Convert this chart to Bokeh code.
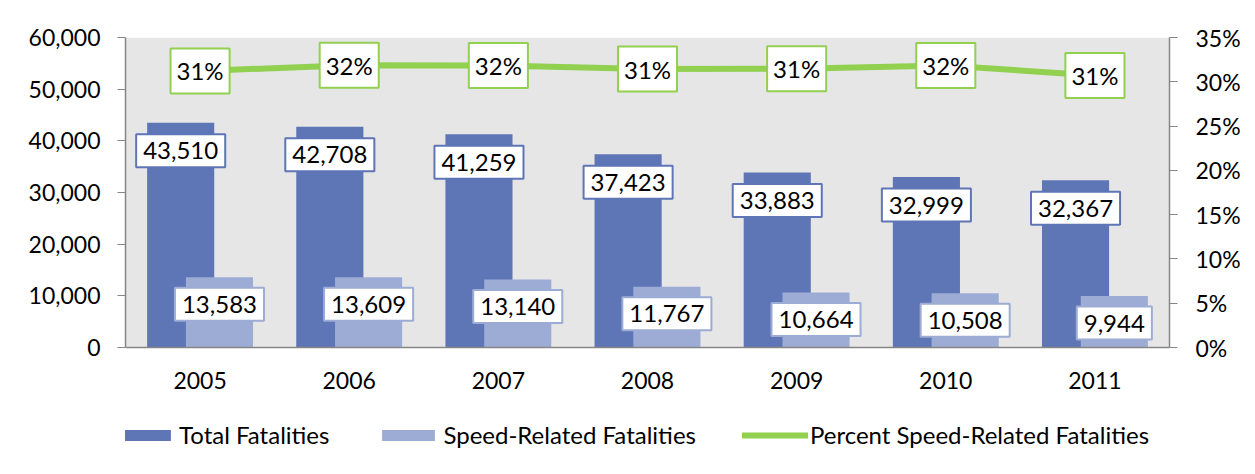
from bokeh.plotting import figure
from bokeh.models import (ColumnDataSource, LinearAxis, Range1d, FactorRange, BoxAnnotation,
                          Legend, LegendItem, NumeralTickFormatter, PrintfTickFormatter,
                          FixedTicker)
from bokeh.transform import dodge
from bokeh.core.properties import value
from bokeh.embed import file_html
from bokeh.resources import INLINE

years = ["2005", "2006", "2007", "2008", "2009", "2010", "2011"]
total_fatalities = [43510, 42708, 41259, 37423, 33883, 32999, 32367]
speed_fatalities = [13583, 13609, 13140, 11767, 10664, 10508, 9944]
percent_speed = [31.22, 31.87, 31.85, 31.44, 31.47, 31.84, 30.72]
left_ticks = [0, 10000, 20000, 30000, 40000, 50000, 60000]
right_ticks = [0, 5, 10, 15, 20, 25, 30, 35]

DARK = "#5e75b6"
LIGHT = "#9dacd5"
GREEN = "#92d050"
AXIS = "#868686"
FONT = "Lato"

# layout (pixels)
W, H = 1255, 474
TOP, LEFT, RIGHT, BOTTOM = 37, 125, 86, 7
PLOT_PX = 310                     # height of the grey plotting area
EXTRA_PX = H - TOP - BOTTOM - PLOT_PX   # room below the zero line for labels & legend
YMAX, PMAX = 60000, 35
ymin = -EXTRA_PX * YMAX / PLOT_PX
pmin = -EXTRA_PX * PMAX / PLOT_PX

src = ColumnDataSource(dict(
    years=years,
    total=total_fatalities,
    speed=speed_fatalities,
    pct=percent_speed,
    total_lbl=[f"{v:,}" for v in total_fatalities],
    speed_lbl=[f"{v:,}" for v in speed_fatalities],
    pct_lbl=[f"{round(v)}%" for v in percent_speed],
))

p = figure(width=W, height=H, x_range=FactorRange(*years), y_range=Range1d(ymin, YMAX),
           output_backend="svg", toolbar_location=None,
           min_border_left=LEFT, min_border_right=RIGHT, min_border_top=TOP,
           min_border_bottom=BOTTOM)
p.background_fill_color = "white"
p.border_fill_color = "white"
p.outline_line_color = None
p.xgrid.visible = False
p.ygrid.visible = False
p.x_range.range_padding = 0
p.extra_y_ranges = {"pct": Range1d(pmin, PMAX)}

p.add_layout(BoxAnnotation(bottom=0, top=YMAX, fill_color="#e6e6e6", fill_alpha=1,
                           line_color=None, level="underlay"))

# left axis
ya = p.yaxis[0]
ya.ticker = FixedTicker(ticks=left_ticks)
ya.bounds = (0, YMAX)
ya.formatter = NumeralTickFormatter(format="0,0")
ya.axis_line_color = AXIS
ya.axis_line_width = 1.5
ya.major_tick_line_color = AXIS
ya.major_tick_in = 0
ya.major_tick_out = 8
ya.minor_tick_line_color = None
ya.major_label_text_font = FONT
ya.major_label_text_font_size = "23px"
ya.major_label_text_color = "black"
ya.major_label_standoff = 17

# right axis
ra = LinearAxis(y_range_name="pct", ticker=FixedTicker(ticks=right_ticks),
                formatter=PrintfTickFormatter(format="%d%%"), bounds=(0, PMAX))
ra.axis_line_color = AXIS
ra.axis_line_width = 1.5
ra.major_tick_line_color = AXIS
ra.major_tick_in = 0
ra.major_tick_out = 8
ra.minor_tick_line_color = None
ra.major_label_text_font = FONT
ra.major_label_text_font_size = "23px"
ra.major_label_text_color = "black"
ra.major_label_standoff = 18
p.add_layout(ra, "right")

# x axis drawn on the zero line
xa = p.xaxis[0]
xa.fixed_location = 0
xa.axis_line_color = AXIS
xa.axis_line_width = 1.5
xa.major_tick_line_color = None
xa.major_tick_out = 0
xa.major_tick_in = 0
xa.major_label_text_font = FONT
xa.major_label_text_font_size = "23px"
xa.major_label_text_color = "black"
xa.major_label_standoff = 24

r_total = p.vbar(x=dodge("years", -0.13, range=p.x_range), top="total", width=0.45,
                 source=src, fill_color=DARK, line_color=None)
r_speed = p.vbar(x=dodge("years", 0.13, range=p.x_range), top="speed", width=0.45,
                 source=src, fill_color=LIGHT, line_color=None)
r_line = p.line(x="years", y="pct", source=src, y_range_name="pct",
                line_color=GREEN, line_width=6, line_cap="round")

common = dict(source=src, anchor="center", text_font=value(FONT), text_font_size="24px",
              text_color="black", background_fill_color="white", border_line_width=2)
p.text(x=dodge("years", -0.13, range=p.x_range), y="total", text="total_lbl",
       y_offset=28, border_line_color=DARK, padding=(7, 8), **common)
p.text(x=dodge("years", 0.13, range=p.x_range), y="speed", text="speed_lbl",
       y_offset=27, border_line_color=LIGHT, padding=(7, 8), **common)
p.text(x="years", y="pct", y_range_name="pct", text="pct_lbl",
       border_line_color=GREEN, padding=(6, 8), **common)

legend = Legend(items=[
    LegendItem(label="Total Fatalities", renderers=[r_total]),
    LegendItem(label="Speed-Related Fatalities", renderers=[r_speed]),
    LegendItem(label="Percent Speed-Related Fatalities", renderers=[r_line]),
], orientation="horizontal", location=(-14, 18))
legend.label_text_font = FONT
legend.label_text_font_size = "24px"
legend.label_text_color = "black"
legend.glyph_width = 66
legend.glyph_height = 14
legend.label_standoff = 2
legend.spacing = 46
legend.padding = 0
legend.margin = 0
legend.background_fill_alpha = 0
legend.border_line_color = None
p.add_layout(legend, "center")

open("out.html", "w").write(file_html(p, INLINE))
